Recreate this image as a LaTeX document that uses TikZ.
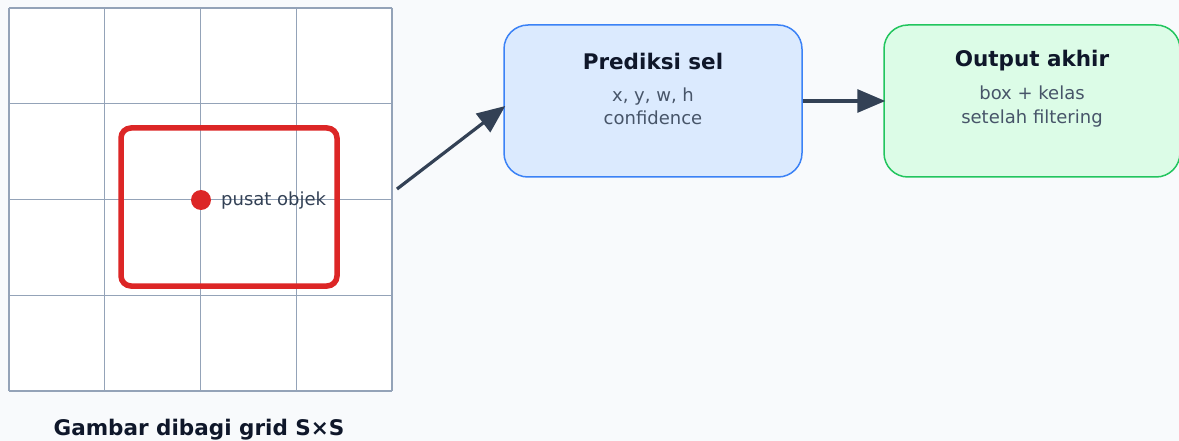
\documentclass[tikz,border=0pt]{standalone}
\usepackage{fontspec}
\setmainfont{DejaVu Sans}
\usetikzlibrary{arrows.meta}
\definecolor{bg}{HTML}{F8FAFC}
\definecolor{gridc}{HTML}{94A3B8}
\definecolor{redc}{HTML}{DC2626}
\definecolor{arrc}{HTML}{334155}
\definecolor{titc}{HTML}{0F172A}
\definecolor{subc}{HTML}{475569}
\definecolor{bluef}{HTML}{DBEAFE}
\definecolor{blued}{HTML}{3B82F6}
\definecolor{greenf}{HTML}{DCFCE7}
\definecolor{greend}{HTML}{22C55E}
\tikzset{
  box/.style={rounded corners=24pt, line width=1.5pt, minimum width=298pt, minimum height=152pt, inner sep=0pt},
  ttl/.style={font=\fontsize{21.5}{25}\selectfont\bfseries, text=titc, inner sep=0pt},
  sub/.style={font=\fontsize{18}{23.5}\selectfont, text=subc, align=center, inner sep=0pt},
  conn/.style={draw=arrc, line width=3.2pt, -{Triangle[length=28pt,width=23pt]}},
}
\begin{document}
\begin{tikzpicture}[x=1pt,y=-1pt]
\useasboundingbox (0,0) rectangle (1179,441);
\fill[bg] (0,0) rectangle (1179,441);
% grid
\fill[white] (9,8) rectangle (392,391);
\foreach \v in {9,104.75,200.5,296.25,392} {
  \draw[gridc, line width=1.4pt] (\v,8) -- (\v,391);
  \draw[gridc, line width=1.4pt] (9,\v-1) -- (392,\v-1);
}
% object box
\draw[redc, line width=5.5pt, rounded corners=10pt] (121,128) rectangle (337,286);
\fill[redc] (201,200) circle (10pt);
\node[anchor=west, font=\fontsize{18}{21}\selectfont, text=arrc, inner sep=0pt] (lbl) at (221,201) {pusat objek};
\node[font=\fontsize{21.5}{25}\selectfont\bfseries, text=titc, inner sep=0pt] (cap) at (199,430) {Gambar dibagi grid S×S};
% boxes
\node[box, draw=blued, fill=bluef] (p) at (653,101) {};
\node[ttl] (pt) at (653,61) {Prediksi sel};
\node[sub] (ps) at (653,106.5) {x, y, w, h\\confidence};
\node[box, draw=greend, fill=greenf, minimum width=296pt] (o) at (1032,101) {};
\node[ttl] (ot) at (1032,61) {Output akhir};
\node[sub] (os) at (1032,106.5) {box + kelas\\setelah filtering};
% connectors
\coordinate (gs) at (397,189);
\draw[conn] (gs) -- ([yshift=-5pt,xshift=2pt]p.west);
\draw[conn] (p.east) -- ([xshift=2pt]o.west);
\end{tikzpicture}
\end{document}
